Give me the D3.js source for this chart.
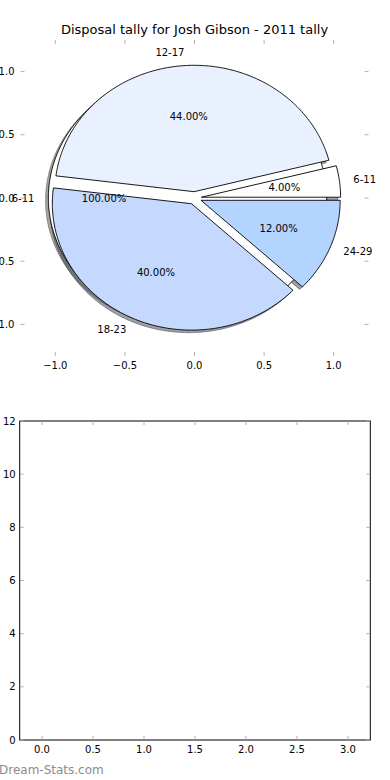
<!DOCTYPE html>
<html>
<head>
<meta charset="utf-8">
<script src="https://cdn.jsdelivr.net/npm/d3@7"></script>
<style>
  body { margin: 0; background: #fff; }
  text { font-family: "DejaVu Sans", sans-serif; }
</style>
</head>
<body>
<script>
const width = 390;
const height = 780;

// pie data
const slices = ["6-11", "12-17", "18-23", "24-29"];
const shares = [4, 44, 40, 12];
const sliceColors = ["#ffffff", "#eaf1fe", "#c5d8fe", "#b3d4ff"];

// the second (single wedge) pie drawn underneath
const totalSlices = ["6-11"];
const totalShares = [100];
const totalColors = ["#ffffff"];

const pieTicks = [-1.0, -0.5, 0.0, 0.5, 1.0];
const lowerXTicks = [0.0, 0.5, 1.0, 1.5, 2.0, 2.5, 3.0];
const lowerYTicks = [0, 2, 4, 6, 8, 10, 12];

const svg = d3.select("body")
    .append("svg")
    .attr("width", width)
    .attr("height", height);

const fmt1 = d => d3.format(".1f")(d).replace("-", "\u2212");

// ---- top: pie axes (frame off, limits +-1.25) ----
const px = d3.scaleLinear().domain([-1.25, 1.25]).range([20.5, 368.5]);
const py = d3.scaleLinear().domain([-1.25, 1.25]).range([356, 40]);

svg.append("text")
    .attr("x", 194.5)
    .attr("y", 33.5)
    .attr("text-anchor", "middle")
    .attr("font-size", 13)
    .text("Disposal tally for Josh Gibson - 2011 tally");

const tickColor = "#b0b0b0";
const tickLen = 4;

const pieAxes = svg.append("g");
pieTicks.forEach(t => {
  pieAxes.append("line").attr("x1", px(t)).attr("x2", px(t))
      .attr("y1", py.range()[0]).attr("y2", py.range()[0] - tickLen);
  pieAxes.append("line").attr("x1", px(t)).attr("x2", px(t))
      .attr("y1", py.range()[1]).attr("y2", py.range()[1] + tickLen);
  pieAxes.append("line").attr("y1", py(t)).attr("y2", py(t))
      .attr("x1", px.range()[0]).attr("x2", px.range()[0] + tickLen);
  pieAxes.append("line").attr("y1", py(t)).attr("y2", py(t))
      .attr("x1", px.range()[1]).attr("x2", px.range()[1] - tickLen);
  pieAxes.append("text").attr("x", px(t)).attr("y", py.range()[0] + 13)
      .attr("text-anchor", "middle").attr("font-size", 10).text(fmt1(t));
  pieAxes.append("text").attr("x", px.range()[0] - 6).attr("y", py(t))
      .attr("dy", "0.35em")
      .attr("text-anchor", "end").attr("font-size", 10).text(fmt1(t));
});
pieAxes.selectAll("line").attr("stroke", tickColor).attr("stroke-width", 1);

const explode = 0.05;
const line = d3.line().x(d => px(d[0])).y(d => py(d[1]));

function wedge(a0, a1, cx, cy) {
  const full = a1 - a0 >= 2 * Math.PI - 1e-9;
  const n = Math.max(4, Math.ceil((a1 - a0) / (Math.PI / 180)));
  const pts = full ? [] : [[cx, cy]];
  for (let i = 0; i <= n; i++) {
    const a = a0 + (a1 - a0) * i / n;
    pts.push([cx + Math.cos(a), cy + Math.sin(a)]);
  }
  return line(pts) + "Z";
}

const pie = d3.pie().sort(null).value(d => d);

function layout(labels, values, colors) {
  return pie(values).map((p, i) => {
    const mid = (p.startAngle + p.endAngle) / 2;
    return {
      label: labels[i],
      value: values[i],
      color: colors[i],
      a0: p.startAngle,
      a1: p.endAngle,
      mid: mid,
      cx: explode * Math.cos(mid),
      cy: explode * Math.sin(mid)
    };
  });
}

const under = layout(totalSlices, totalShares, totalColors);
const over = layout(slices, shares, sliceColors);
const all = under.concat(over);

function shadowColor(c) {
  const k = d3.rgb(c);
  return `rgba(${k.r * 0.3},${k.g * 0.3},${k.b * 0.3},0.5)`;
}

// shadows first
svg.append("g").selectAll("path")
    .data(all)
    .join("path")
    .attr("d", d => wedge(d.a0, d.a1, d.cx - 0.02, d.cy - 0.02))
    .attr("fill", d => shadowColor(d.color))
    .attr("stroke", d => shadowColor(d.color))
    .attr("stroke-width", 1);

// wedges
svg.append("g").selectAll("path")
    .data(all)
    .join("path")
    .attr("d", d => wedge(d.a0, d.a1, d.cx, d.cy))
    .attr("fill", d => d.color)
    .attr("stroke", "#000")
    .attr("stroke-width", 0.9)
    .attr("stroke-linejoin", "round");

// labels
const labels = svg.append("g").attr("font-size", 10);
all.forEach(d => {
  const lx = d.cx + 1.1 * Math.cos(d.mid);
  const ly = d.cy + 1.1 * Math.sin(d.mid);
  labels.append("text")
      .attr("x", px(lx)).attr("y", py(ly)).attr("dy", "0.35em")
      .attr("text-anchor", lx < 0 ? "end" : "start")
      .text(d.label);
  const tx = d.cx + 0.6 * Math.cos(d.mid);
  const ty = d.cy + 0.6 * Math.sin(d.mid);
  labels.append("text")
      .attr("x", px(tx)).attr("y", py(ty)).attr("dy", "0.35em")
      .attr("text-anchor", "middle")
      .text(d3.format(".2f")(d.value) + "%");
});

// ---- bottom: empty axes ----
const bx = d3.scaleLinear().domain([-0.219, 3.219]).range([19.7, 370.3]);
const by = d3.scaleLinear().domain([0, 12]).range([740, 421]);

const low = svg.append("g");
low.append("rect")
    .attr("x", bx.range()[0]).attr("y", by.range()[1])
    .attr("width", bx.range()[1] - bx.range()[0])
    .attr("height", by.range()[0] - by.range()[1])
    .attr("fill", "none").attr("stroke", "#000").attr("stroke-width", 1);

const lowTicks = low.append("g").attr("stroke", tickColor).attr("stroke-width", 1);
lowerXTicks.forEach(t => {
  lowTicks.append("line").attr("x1", bx(t)).attr("x2", bx(t))
      .attr("y1", by.range()[0] - 0.5).attr("y2", by.range()[0] - tickLen);
  lowTicks.append("line").attr("x1", bx(t)).attr("x2", bx(t))
      .attr("y1", by.range()[1] + 0.5).attr("y2", by.range()[1] + tickLen);
  low.append("text").attr("x", bx(t)).attr("y", by.range()[0] + 13)
      .attr("text-anchor", "middle").attr("font-size", 10).text(d3.format(".1f")(t));
});
lowerYTicks.forEach(t => {
  lowTicks.append("line").attr("y1", by(t)).attr("y2", by(t))
      .attr("x1", bx.range()[0] + 0.5).attr("x2", bx.range()[0] + tickLen);
  lowTicks.append("line").attr("y1", by(t)).attr("y2", by(t))
      .attr("x1", bx.range()[1] - 0.5).attr("x2", bx.range()[1] - tickLen);
  low.append("text").attr("x", bx.range()[0] - 4).attr("y", by(t))
      .attr("dy", "0.35em")
      .attr("text-anchor", "end").attr("font-size", 10).text(t);
});

// watermark
svg.append("text")
    .attr("x", -1)
    .attr("y", 774)
    .attr("font-size", 12)
    .attr("fill", "#8c8c8c")
    .text("Dream-Stats.com");
</script>
</body>
</html>
